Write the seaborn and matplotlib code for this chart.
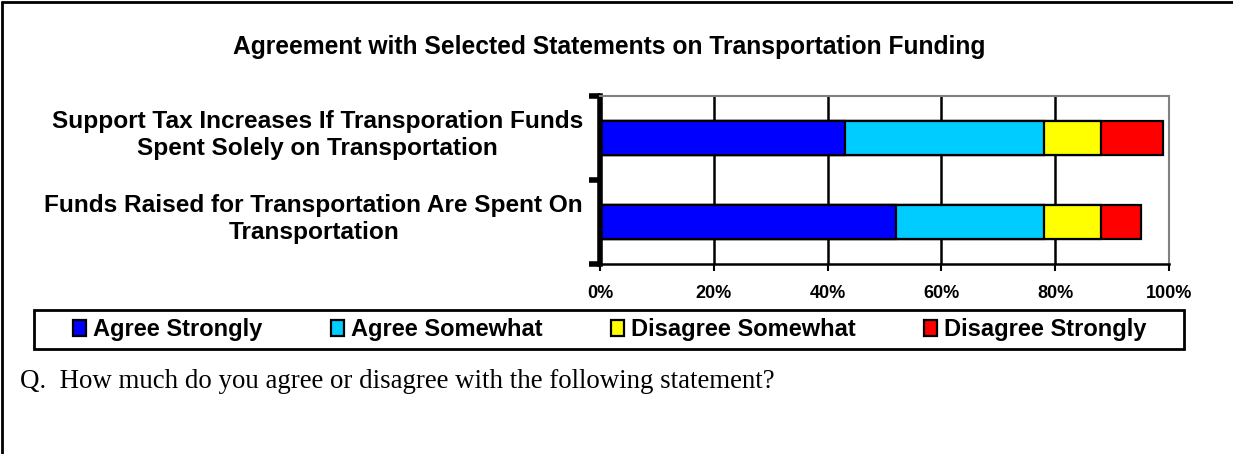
import matplotlib
matplotlib.use("Agg")
import matplotlib.pyplot as plt
import matplotlib.transforms as mtransforms
import seaborn as sns
import pandas as pd
import numpy as np
from matplotlib.patches import Rectangle, Patch
from matplotlib.lines import Line2D

# ---- data ----
statements = [
    "Support Tax Increases If Transporation Funds\nSpent Solely on Transportation",
    "Funds Raised for Transportation Are Spent On\nTransportation",
]
responses = ["Agree Strongly", "Agree Somewhat", "Disagree Somewhat", "Disagree Strongly"]
agree_strongly = [43, 52]
agree_somewhat = [35, 26]
disagree_somewhat = [10, 10]
disagree_strongly = [11, 7]
colors = ["#0000FF", "#00CCFF", "#FFFF00", "#FF0000"]
xticks = [0, 20, 40, 60, 80, 100]
xtick_labels = ["0%", "20%", "40%", "60%", "80%", "100%"]
title = "Agreement with Selected Statements on Transportation Funding"
footnote = "Q.  How much do you agree or disagree with the following statement?"

sns.set_theme(style="white")
plt.rcParams["font.family"] = ["Liberation Sans", "DejaVu Sans"]
plt.rcParams["text.color"] = "black"
plt.rcParams["xtick.color"] = "black"
plt.rcParams["ytick.color"] = "black"
plt.rcParams["xtick.labelcolor"] = "black"
plt.rcParams["ytick.labelcolor"] = "black"

W, H = 1233, 454
fig = plt.figure(figsize=(W / 100, H / 100), dpi=100)

def fx(px):
    return px / W

def fy(py):
    return 1 - py / H

ax_l, ax_r, ax_t, ax_b = 600, 1169, 96, 264
ax = fig.add_axes([fx(ax_l), fy(ax_b), fx(ax_r - ax_l), (ax_b - ax_t) / H])

series = [agree_strongly, agree_somewhat, disagree_somewhat, disagree_strongly]
cum = np.cumsum(np.array(series), axis=0)
df = pd.DataFrame({"statement": statements})
# draw cumulative totals back to front for stacked look
for i in range(len(responses) - 1, -1, -1):
    d = df.copy()
    d["value"] = cum[i]
    sns.barplot(data=d, x="value", y="statement", orient="h", color=colors[i],
                saturation=1, width=0.4, edgecolor="black", linewidth=1.6,
                ax=ax, order=statements)

ax.set_xlim(0, 100)
ax.set_ylim(1.5, -0.5)
ax.set_xlabel("")
ax.set_ylabel("")
ax.set_xticks(xticks)
ax.set_xticklabels(xtick_labels, fontsize=13, fontweight="bold", color="black")
ax.tick_params(axis="x", length=5, width=1.5, color="black", pad=10, direction="out", bottom=True)

# category labels (placed slightly above bar centres like the original)
ax.set_yticks([0, 1])
ax.set_yticklabels([])
ax.tick_params(axis="y", which="major", length=0)
label_tr = ax.get_yaxis_transform() + mtransforms.ScaledTranslation(-17 / 100, 3 / 100, fig.dpi_scale_trans)
for i, lab in enumerate(statements):
    ax.text(0, i, lab, transform=label_tr, ha="right", va="center",
            multialignment="center", linespacing=1.25,
            fontsize=17.6, fontweight="bold", color="black")

ax.set_yticks([-0.5, 0.5, 1.5], minor=True)
ax.tick_params(axis="y", which="minor", length=8, width=4, color="black", left=True)

for xv in xticks[1:-1]:
    ax.axvline(xv, color="black", linewidth=1.8, zorder=0)

for s in ["top", "right"]:
    ax.spines[s].set_color("#808080")
    ax.spines[s].set_linewidth(1.5)
ax.spines["bottom"].set_color("black")
ax.spines["bottom"].set_linewidth(1.8)
ax.spines["left"].set_color("black")
ax.spines["left"].set_linewidth(4)
ax.grid(False)

fig.text(fx(609), fy(47), title, ha="center", va="center", fontsize=17.7,
         fontweight="bold", color="black")

# legend
handles = [Patch(facecolor=c, edgecolor="black", linewidth=1.6) for c in colors]
leg = fig.legend(handles, responses, loc="center", bbox_to_anchor=(fx(610), fy(329.5)),
                 ncol=4, frameon=False, prop={"weight": "bold", "size": 17},
                 handlelength=0.55, handleheight=0.65, handletextpad=0.3, columnspacing=2.9)
for t in leg.get_texts():
    t.set_color("black")
fig.patches.append(Rectangle((fx(34), fy(349)), fx(1184 - 34), (349 - 310) / H,
                             transform=fig.transFigure, fill=False, edgecolor="black",
                             linewidth=2))

fig.text(fx(20), fy(381), footnote, ha="left", va="center", fontsize=19.4,
         family=["Liberation Serif", "DejaVu Serif"], color="black")

# outer frame (left and top)
fig.add_artist(Line2D([fx(2), fx(2)], [0, fy(2)], transform=fig.transFigure, color="black", linewidth=2))
fig.add_artist(Line2D([fx(2), 1], [fy(2), fy(2)], transform=fig.transFigure, color="black", linewidth=2))

fig.savefig("out.png", dpi=100)
